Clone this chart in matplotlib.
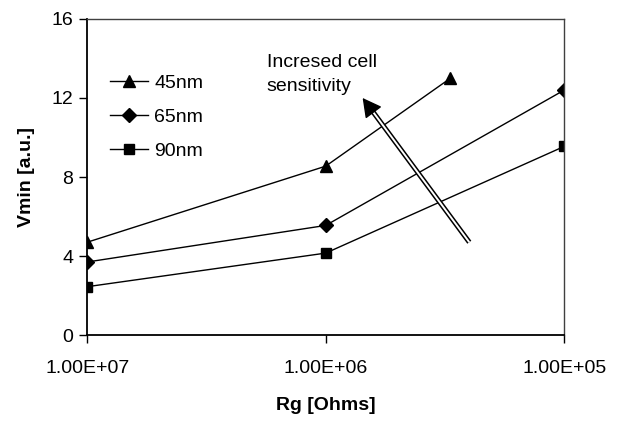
import matplotlib
matplotlib.use("Agg")
import matplotlib.pyplot as plt
from matplotlib.ticker import FixedLocator, NullLocator, FixedFormatter

plt.rcParams['font.family'] = ['Liberation Sans', 'DejaVu Sans']

# Data
x_45 = [1e7, 1e6, 3.0e5]
y_45 = [4.7, 8.55, 13.0]
x_65 = [1e7, 1e6, 1e5]
y_65 = [3.7, 5.55, 12.4]
x_90 = [1e7, 1e6, 1e5]
y_90 = [2.45, 4.15, 9.55]
series_labels = ["45nm", "65nm", "90nm"]
x_ticks = [1e7, 1e6, 1e5]
x_ticklabels = ["1.00E+07", "1.00E+06", "1.00E+05"]
y_ticks = [0, 4, 8, 12, 16]

FS = 14

fig = plt.figure(figsize=(6.18, 4.21), dpi=100)
ax = fig.add_axes([0.141, 0.204, 0.772, 0.751])

ax.plot(x_45, y_45, color='black', lw=1, marker='^', ms=9, label=series_labels[0])
ax.plot(x_65, y_65, color='black', lw=1, marker='D', ms=7, label=series_labels[1])
ax.plot(x_90, y_90, color='black', lw=1, marker='s', ms=7.5, label=series_labels[2])

ax.set_xscale('log')
ax.set_xlim(1e7, 1e5)
ax.set_ylim(0, 16)
ax.xaxis.set_major_locator(FixedLocator(x_ticks))
ax.xaxis.set_major_formatter(FixedFormatter(x_ticklabels))
ax.xaxis.set_minor_locator(NullLocator())
ax.set_yticks(y_ticks)

for s in ['left', 'bottom']:
    ax.spines[s].set_color('black')
    ax.spines[s].set_linewidth(1.3)
for s in ['top', 'right']:
    ax.spines[s].set_color('#404040')
    ax.spines[s].set_linewidth(1.0)

ax.tick_params(axis='both', direction='out', length=6, width=1, labelsize=FS, colors='black')
ax.tick_params(axis='x', pad=12)
ax.tick_params(axis='y', pad=4)

ax.set_xlabel("Rg [Ohms]", fontsize=FS, fontweight='bold', labelpad=14)
ax.set_ylabel("Vmin [a.u.]", fontsize=FS, fontweight='bold', labelpad=12)

leg = ax.legend(loc='upper left', bbox_to_anchor=(0.012, 0.88), frameon=False, fontsize=FS,
                handlelength=1.95, labelspacing=0.85, handletextpad=0.3)

# Arrow (double line shaft with filled head)
tip = (7.0e5, 12.0)
head_base = (6.38e5, 11.35)
tail = (2.5e5, 4.7)
ax.plot([tail[0], head_base[0]], [tail[1], head_base[1]], color='black', lw=3.6,
        solid_capstyle='butt')
ax.plot([tail[0], head_base[0]], [tail[1], head_base[1]], color='white', lw=1.4,
        solid_capstyle='butt')
ax.annotate("", xy=tip, xytext=head_base,
            arrowprops=dict(arrowstyle='-|>,head_length=0.65,head_width=0.35',
                            fc='black', ec='black', lw=1, shrinkA=0, shrinkB=0,
                            mutation_scale=18))

ax.text(1.77e6, 13.2, "Incresed cell\nsensitivity", fontsize=FS, ha='left', va='center',
        linespacing=1.5)

fig.savefig("out.png", dpi=100)
